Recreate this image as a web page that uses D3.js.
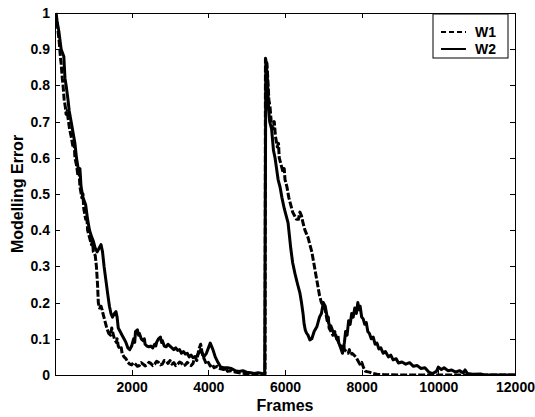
<!DOCTYPE html>
<html lang="en">
<head>
<meta charset="utf-8">
<title>Modelling Error</title>
<script src="https://cdn.jsdelivr.net/npm/d3@7/dist/d3.min.js"></script>
<style>
  body { margin: 0; background: #fff; }
  text { font-family: "Liberation Sans", Arial, sans-serif; font-weight: bold; fill: #000; }
  .axis path, .axis line { stroke: #000; stroke-width: 1; shape-rendering: crispEdges; }
  .axis text { font-size: 14px; }
</style>
</head>
<body>
<script>
// tick labels
var xTicks = [2000, 4000, 6000, 8000, 10000, 12000];
var yTicks = [0, 0.1, 0.2, 0.3, 0.4, 0.5, 0.6, 0.7, 0.8, 0.9, 1];
var seriesNames = ["W1", "W2"];

// W1 (dashed): [frame, error]
var w1 = [[30,1.0],[60,0.97],[80,0.95],[110,0.92],[140,0.88],[160,0.86],[190,0.82],[210,0.8],[240,0.76],[270,0.74],[290,0.72],[320,0.73],[340,0.71],[380,0.68],[420,0.66],
  [470,0.63],[500,0.64],[520,0.6],[560,0.58],[600,0.55],[630,0.56],[650,0.52],[700,0.49],[730,0.5],[750,0.46],[800,0.43],[830,0.44],[850,0.4],[900,0.38],
  [950,0.36],[980,0.37],[1000,0.34],[1050,0.33],[1080,0.3],[1110,0.25],[1130,0.2],[1160,0.185],[1200,0.19],[1230,0.18],[1250,0.17],[1300,0.15],
  [1350,0.13],[1400,0.115],[1450,0.11],[1480,0.13],[1500,0.12],[1550,0.1],[1600,0.09],[1620,0.1],[1650,0.08],[1700,0.07],[1730,0.075],[1750,0.06],[1800,0.05],
  [1850,0.045],[1900,0.035],[1950,0.03],[2000,0.028],[2050,0.034],[2100,0.03],[2150,0.024],[2200,0.026],[2250,0.034],[2300,0.03],[2350,0.025],[2400,0.028],[2450,0.035],[2500,0.032],[2550,0.026],[2600,0.03],
  [2650,0.038],[2700,0.035],[2750,0.028],[2800,0.03],[2850,0.04],[2900,0.038],[2950,0.032],[3000,0.04],[3050,0.03],[3100,0.034],[3150,0.026],[3200,0.03],[3250,0.036],[3300,0.033],[3350,0.025],[3400,0.028],[3450,0.035],[3500,0.03],[3550,0.026],[3600,0.032],
  [3650,0.05],[3700,0.04],[3750,0.07],[3800,0.085],[3840,0.06],[3870,0.05],[3950,0.03],[4000,0.035],[4050,0.025],[4100,0.03],[4150,0.02],[4230,0.024],[4300,0.018],[4400,0.015],[4450,0.02],[4500,0.01],[4600,0.012],
  [4700,0.008],[4800,0.006],[4900,0.005],[5000,0.003],[5200,0.002],[5400,0.003],[5470,0.002],
  [5480,0.003],[5490,0.875],[5530,0.86],[5560,0.8],[5580,0.76],[5610,0.74],[5640,0.7],[5680,0.68],[5720,0.7],[5750,0.66],
  [5800,0.63],[5830,0.64],[5850,0.6],[5900,0.58],[5950,0.56],[5980,0.57],[6000,0.54],[6050,0.52],[6100,0.49],[6150,0.47],[6200,0.45],[6250,0.44],
  [6300,0.43],[6350,0.43],[6390,0.45],[6430,0.44],[6470,0.42],[6520,0.4],[6600,0.38],[6650,0.36],[6700,0.34],[6750,0.31],
  [6800,0.28],[6850,0.25],[6900,0.22],[6950,0.2],[7000,0.19],[7050,0.18],[7100,0.15],[7130,0.16],[7150,0.13],[7200,0.12],[7250,0.11],
  [7300,0.12],[7350,0.1],[7380,0.11],[7400,0.09],[7450,0.08],[7500,0.075],[7530,0.085],[7550,0.07],[7600,0.065],[7650,0.06],[7680,0.07],[7700,0.058],[7750,0.06],
  [7800,0.055],[7850,0.05],[7900,0.04],[7950,0.03],[8000,0.035],[8050,0.02],[8100,0.01],[8200,0.008],[8300,0.004],[8400,0.002],
  [8600,0.001],[9000,0],[10000,0],[12000,0]];

// W2 (solid)
var w2 = [[30,0.99],[100,0.95],[160,0.9],[230,0.88],[260,0.82],[290,0.8],[340,0.76],[370,0.73],[420,0.7],[470,0.67],
  [520,0.64],[560,0.6],[620,0.56],[650,0.57],[680,0.52],[730,0.49],[800,0.47],[850,0.43],[900,0.4],[960,0.38],[1000,0.37],
  [1050,0.35],[1100,0.34],[1150,0.35],[1200,0.36],[1240,0.34],[1280,0.3],[1330,0.26],[1380,0.22],[1420,0.19],[1460,0.17],
  [1500,0.16],[1550,0.17],[1590,0.175],[1620,0.16],[1650,0.13],[1700,0.12],[1750,0.11],[1800,0.1],[1850,0.09],[1900,0.075],
  [1950,0.07],[2000,0.08],[2050,0.1],[2080,0.09],[2100,0.12],[2150,0.125],[2180,0.11],[2200,0.115],[2250,0.1],[2300,0.095],[2330,0.1],[2350,0.085],[2400,0.08],
  [2450,0.078],[2500,0.08],[2550,0.075],[2600,0.085],[2630,0.08],[2650,0.09],[2700,0.1],[2750,0.105],[2780,0.09],[2800,0.095],[2850,0.08],[2900,0.078],
  [2950,0.085],[3000,0.08],[3050,0.075],[3100,0.07],[3150,0.075],[3200,0.068],[3250,0.07],[3300,0.06],[3350,0.065],[3400,0.058],[3450,0.06],[3500,0.05],[3550,0.055],[3600,0.048],[3700,0.052],
  [3800,0.07],[3880,0.05],[3950,0.06],[4050,0.088],[4120,0.07],[4180,0.05],[4250,0.035],[4320,0.022],[4400,0.02],[4500,0.02],
  [4600,0.018],[4700,0.012],[4800,0.01],[4900,0.012],[5000,0.008],[5100,0.006],[5200,0.004],[5300,0.006],[5400,0.004],[5460,0.003],
  [5470,0.003],[5500,0.87],[5540,0.82],[5570,0.74],[5600,0.7],[5650,0.68],[5700,0.62],[5740,0.6],[5780,0.57],[5820,0.54],
  [5870,0.52],[5920,0.49],[5980,0.46],[6030,0.44],[6080,0.42],[6120,0.38],[6150,0.35],[6200,0.31],[6260,0.28],[6330,0.25],
  [6390,0.226],[6430,0.2],[6470,0.17],[6500,0.14],[6530,0.124],[6560,0.116],[6600,0.11],[6650,0.097],[6700,0.1],[6760,0.12],
  [6830,0.133],[6900,0.16],[6950,0.17],[7000,0.2],[7050,0.19],[7100,0.16],[7150,0.14],[7200,0.135],[7250,0.12],[7300,0.115],
  [7350,0.1],[7400,0.09],[7450,0.075],[7500,0.06],[7550,0.09],[7580,0.12],[7620,0.11],[7660,0.15],[7700,0.14],[7740,0.17],
  [7780,0.16],[7820,0.185],[7860,0.17],[7900,0.2],[7930,0.18],[7960,0.19],[8000,0.16],[8040,0.155],[8080,0.14],[8120,0.145],
  [8160,0.12],[8200,0.115],[8250,0.1],[8300,0.105],[8350,0.085],[8400,0.088],[8450,0.072],[8500,0.075],[8560,0.06],[8620,0.065],
  [8700,0.05],[8760,0.055],[8820,0.042],[8900,0.045],[8960,0.033],[9050,0.036],[9150,0.03],[9250,0.034],[9350,0.024],[9450,0.026],
  [9550,0.018],[9650,0.02],[9750,0.008],[9850,0.004],[9950,0.01],[10000,0.022],[10080,0.015],[10150,0.02],[10250,0.012],[10350,0.014],
  [10450,0.008],[10550,0.012],[10650,0.006],[10700,0.014],[10760,0.004],[10900,0.002],[11100,0.003],[11200,0],[12000,0]];

var w = 535, h = 417;
var mLeft = 55, mRight = 515, mTop = 13, mBottom = 375;

var svg = d3.select("body").append("svg")
  .attr("width", w)
  .attr("height", h);

var x = d3.scaleLinear().domain([0, 12000]).range([mLeft, mRight]);
var y = d3.scaleLinear().domain([0, 1]).range([mBottom, mTop]);

svg.append("clipPath").attr("id", "plot")
  .append("rect")
  .attr("x", mLeft).attr("y", mTop - 2)
  .attr("width", mRight - mLeft).attr("height", mBottom - mTop + 2);

var line = d3.line()
  .x(function(d) { return x(d[0]); })
  .y(function(d) { return y(d[1]); });

var g = svg.append("g").attr("clip-path", "url(#plot)");

g.append("path")
  .datum(w1)
  .attr("d", line)
  .attr("fill", "none")
  .attr("stroke", "#000")
  .attr("stroke-width", 3)
  .attr("stroke-dasharray", "7,2")
  .attr("stroke-linejoin", "round");

g.append("path")
  .datum(w2)
  .attr("d", line)
  .attr("fill", "none")
  .attr("stroke", "#000")
  .attr("stroke-width", 3)
  .attr("stroke-linejoin", "round");

// axes with inward ticks, box around the plot
svg.append("g")
  .attr("class", "axis")
  .attr("transform", "translate(0," + mBottom + ")")
  .call(d3.axisBottom(x).tickValues(xTicks).tickSizeInner(-5).tickSizeOuter(0).tickPadding(7).tickFormat(d3.format("d")));

svg.append("g")
  .attr("class", "axis")
  .attr("transform", "translate(" + mLeft + ",0)")
  .call(d3.axisLeft(y).tickValues(yTicks).tickSizeInner(-5).tickSizeOuter(0).tickPadding(5).tickFormat(function(d) { return String(+d.toFixed(1)); }));

svg.append("g")
  .attr("class", "axis")
  .attr("transform", "translate(0," + mTop + ")")
  .call(d3.axisTop(x).tickValues(xTicks).tickSizeInner(-5).tickSizeOuter(0).tickFormat(""));

svg.append("g")
  .attr("class", "axis")
  .attr("transform", "translate(" + mRight + ",0)")
  .call(d3.axisRight(y).tickValues(yTicks).tickSizeInner(-5).tickSizeOuter(0).tickFormat(""));

// axis titles
svg.append("text")
  .attr("x", (mLeft + mRight) / 2)
  .attr("y", 411)
  .attr("text-anchor", "middle")
  .style("font-size", "16px")
  .text("Frames");

svg.append("text")
  .attr("transform", "translate(23," + ((mTop + mBottom) / 2) + ") rotate(-90)")
  .attr("text-anchor", "middle")
  .style("font-size", "16px")
  .text("Modelling Error");

// legend
var legend = svg.append("g").attr("transform", "translate(433,14)");
legend.append("rect")
  .attr("width", 75).attr("height", 44)
  .attr("fill", "#fff").attr("stroke", "#000").attr("stroke-width", 1);

seriesNames.forEach(function(name, i) {
  var ly = 18 + i * 17;
  legend.append("line")
    .attr("x1", 8).attr("x2", 33)
    .attr("y1", ly).attr("y2", ly)
    .attr("stroke", "#000")
    .attr("stroke-width", 2)
    .attr("stroke-dasharray", i === 0 ? "5,3" : null);
  legend.append("text")
    .attr("x", 42).attr("y", ly + 5)
    .style("font-size", "14px")
    .text(name);
});
</script>
</body>
</html>
